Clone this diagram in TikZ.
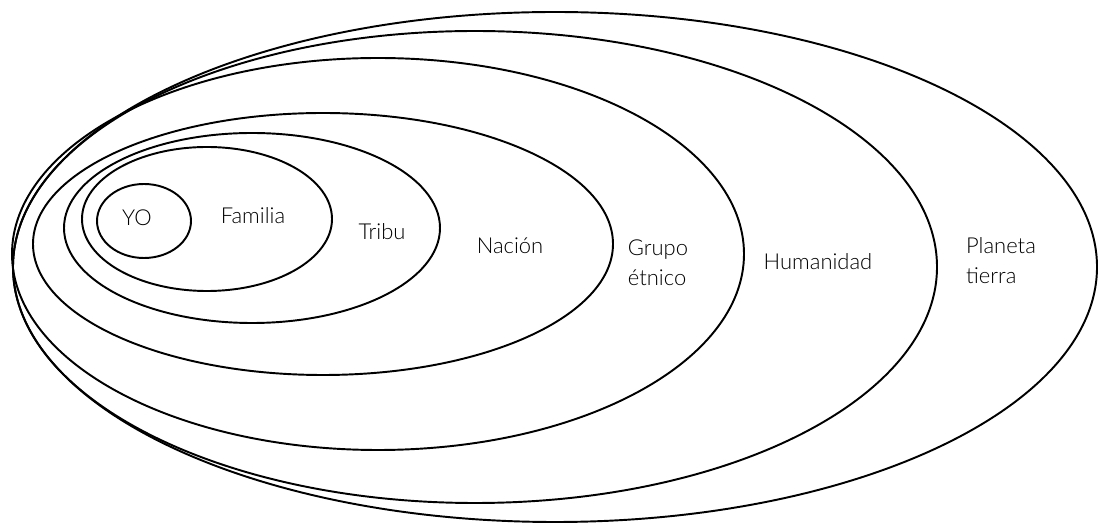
\documentclass[tikz,border=0pt]{standalone}
\usepackage{fontspec}
\setmainfont{Lato Light}
\usepackage{tikz}

\begin{document}
\begin{tikzpicture}[x=0.02cm,y=-0.02cm,
  ring/.style={draw,line width=1.1pt},
  word node/.style={font=\fontsize{12.5}{17}\selectfont,align=left,inner sep=0pt}]
  \useasboundingbox (0,0) rectangle (1099,526);

  % circles, inner to outer
  \draw[ring] (144,221) ellipse [x radius=47,y radius=37];
  \draw[ring] (207,219) ellipse [x radius=125,y radius=72];
  \draw[ring] (252,228) ellipse [x radius=188,y radius=95];
  \draw[ring] (323,244) ellipse [x radius=290,y radius=131];
  \draw[ring] (378,254) ellipse [x radius=366,y radius=196];
  \draw[ring] (475,267) ellipse [x radius=462,y radius=236];
  \draw[ring] (555,267) ellipse [x radius=542,y radius=255];

  \node[word node] (yo) at (137,218) {YO};
  \node[word node] (familia) at (253,216) {Familia};
  \node[word node] (tribu) at (382,232) {Tribu};
  \node[word node] (nacion) at (510,246) {Nación};
  \node[word node] (grupo) at (658,263) {Grupo\\étnico};
  \node[word node] (humanidad) at (818,262) {Humanidad};
  \node[word node] (planeta) at (1001,261) {Planeta\\tierra};
\end{tikzpicture}
\end{document}
